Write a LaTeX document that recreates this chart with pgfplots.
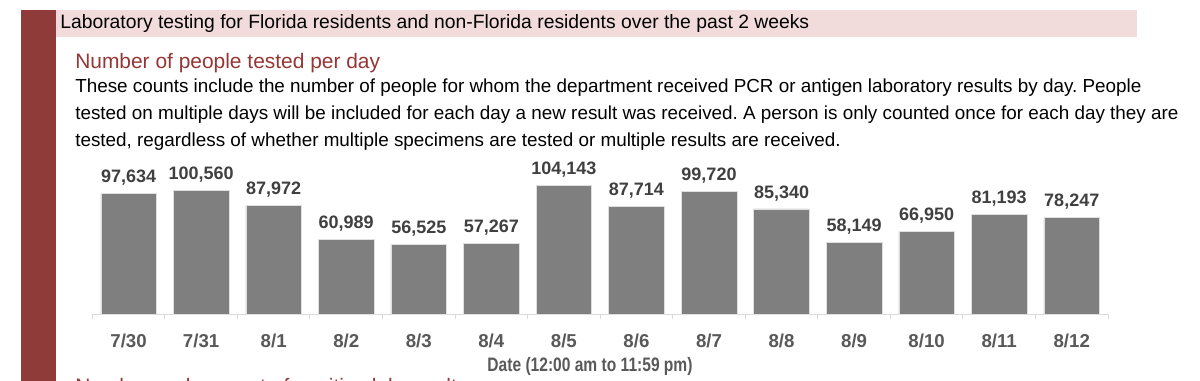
\documentclass[border=0pt]{standalone}
\usepackage{fontspec}
\setmainfont{Liberation Sans}
\usepackage{graphicx}
\usepackage{pgfplots}
\pgfplotsset{compat=1.18}
\definecolor{darkred}{HTML}{8E3B3A}
\definecolor{pinkbg}{HTML}{F2DCDB}
\definecolor{subred}{HTML}{953735}
\definecolor{bargray}{HTML}{7F7F7F}
\definecolor{lblgray}{HTML}{404040}
\definecolor{tickgray}{HTML}{595959}
\definecolor{axgray}{HTML}{D9D9D9}
\frenchspacing
\begin{document}
\begin{tikzpicture}[x=0.75pt,y=0.75pt]
\useasboundingbox (0,0) rectangle (1200,381);
\clip (0,0) rectangle (1200,381);
\fill[white] (0,0) rectangle (1200,381);
\fill[darkred] (20.5,0) rectangle (56,371);
\fill[pinkbg] (56,344) rectangle (1137,371);
\node[anchor=base west, inner sep=0pt, font=\fontsize{14.5}{17}\selectfont] at (60,352) {Laboratory testing for Florida residents and non-Florida residents over the past 2 weeks};
\node[anchor=base west, inner sep=0pt, text=subred, font=\fontsize{15.7}{18}\selectfont] at (75,312) {Number of people tested per day};
\node[anchor=base west, inner sep=0pt, font=\fontsize{14.15}{16}\selectfont] at (75,288) {These counts include the number of people for whom the department received PCR or antigen laboratory results by day. People};
\node[anchor=base west, inner sep=0pt, font=\fontsize{14.15}{16}\selectfont] at (75,261) {tested on multiple days will be included for each day a new result was received. A person is only counted once for each day they are};
\node[anchor=base west, inner sep=0pt, font=\fontsize{14.15}{16}\selectfont] at (75,234) {tested, regardless of whether multiple specimens are tested or multiple results are received.};
\node[anchor=base, inner sep=0pt, text=tickgray, font=\bfseries\fontsize{14.6}{17}\selectfont] at (590,9.5) {\scalebox{0.8}[1]{Date (12:00 am to 11:59 pm)}};
\node[anchor=base west, inner sep=0pt, text=subred, font=\fontsize{15.7}{18}\selectfont] at (75,-12.5) {Number and percent of positive lab results};
\begin{axis}[
  at={(69.225pt,49.875pt)}, anchor=south west,
  scale only axis, width=761.8pt, height=111.3pt,
  xmin=-0.5, xmax=13.5, ymin=0, ymax=120000,
  axis x line*=bottom, axis y line=none,
  axis line style={draw=axgray, line width=0.75pt},
  xtick={0,...,13},
  xticklabels={7/30,7/31,8/1,8/2,8/3,8/4,8/5,8/6,8/7,8/8,8/9,8/10,8/11,8/12},
  major tick length=0pt,
  xticklabel style={anchor=base, inner sep=0pt, yshift=-24.5pt, text=tickgray, font=\bfseries\fontsize{14}{16}\selectfont},
  extra x ticks={-0.5,0.5,...,13.5},
  extra x tick labels={},
  extra x tick style={tick align=outside, major tick length=3.75pt, tick style={draw=axgray, line width=0.75pt}},
  ytick=\empty,
  clip=false,
]
\addplot[ybar, bar width=41.7pt, fill=bargray, draw=white!75!bargray, line width=0.4pt,
  nodes near coords={\pgfmathprintnumber[fixed, precision=0, 1000 sep={,}, assume math mode=true]{\pgfplotspointmeta}},
  nodes near coords style={anchor=south, inner sep=0pt, yshift=8pt, text depth=0pt, text=lblgray,
    font=\bfseries\fontsize{13.5}{16}\selectfont}]
coordinates {(0,97634) (1,100560) (2,87972) (3,60989) (4,56525) (5,57267) (6,104143) (7,87714) (8,99720) (9,85340) (10,58149) (11,66950) (12,81193) (13,78247)};
\end{axis}
\end{tikzpicture}
\end{document}
